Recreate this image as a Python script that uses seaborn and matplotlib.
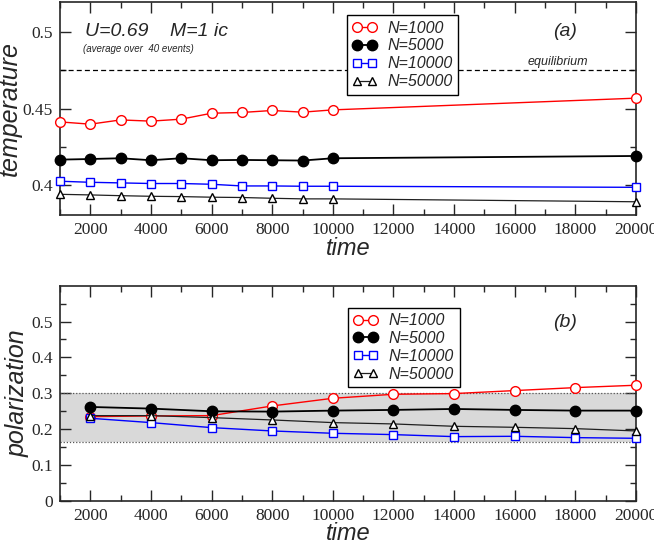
#!/usr/bin/env python3

import pandas as pd
import matplotlib
matplotlib.use("Agg")
import matplotlib.pyplot as plt
import seaborn as sns

# panel (a): temperature vs time
time_a = [1000, 2000, 3000, 4000, 5000, 6000, 7000, 8000, 9000, 10000, 20000]
temp_1000 = [0.4412, 0.4397, 0.4425, 0.4417, 0.4430, 0.4469, 0.4474, 0.4487, 0.4476, 0.4491, 0.4568]
temp_5000 = [0.4164, 0.4168, 0.4173, 0.4160, 0.4173, 0.4160, 0.4162, 0.4160, 0.4158, 0.4173, 0.4188]
temp_10000 = [0.4022, 0.4015, 0.4011, 0.4007, 0.4007, 0.4002, 0.3991, 0.3991, 0.3989, 0.3989, 0.3982]
temp_50000 = [0.3936, 0.3932, 0.3927, 0.3923, 0.3921, 0.3917, 0.3915, 0.3910, 0.3906, 0.3906, 0.3887]
equilibrium = 0.475

# panel (b): polarization vs time
time_b = [2000, 4000, 6000, 8000, 10000, 12000, 14000, 16000, 18000, 20000]
pol_1000 = [0.2346, 0.2365, 0.2374, 0.2644, 0.2858, 0.2970, 0.2989, 0.3073, 0.3156, 0.3222]
pol_5000 = [0.2616, 0.2570, 0.2495, 0.2486, 0.2514, 0.2533, 0.2560, 0.2533, 0.2514, 0.2514]
pol_10000 = [0.2300, 0.2179, 0.2039, 0.1946, 0.1881, 0.1844, 0.1788, 0.1797, 0.1760, 0.1741]
pol_50000 = [0.2374, 0.2374, 0.2318, 0.2253, 0.2179, 0.2142, 0.2076, 0.2048, 0.2011, 0.1946]
band = (0.165, 0.30)

labels = ["N=1000", "N=5000", "N=10000", "N=50000"]

styles = {
    "N=1000": dict(color="#ff0000", marker="o", mfc="white", mec="#ff0000", lw=1.0, ms=7),
    "N=5000": dict(color="black", marker="o", mfc="black", mec="black", lw=1.3, ms=7.5),
    "N=10000": dict(color="#0000ff", marker="s", mfc="white", mec="#0000ff", lw=1.0, ms=6),
    "N=50000": dict(color="#202020", marker="^", mfc="white", mec="black", lw=0.9, ms=6),
}

sns.set_style("ticks")
plt.rcParams["font.family"] = ["DejaVu Sans"]
plt.rcParams["xtick.direction"] = "in"
plt.rcParams["ytick.direction"] = "in"
plt.rcParams["xtick.top"] = True
plt.rcParams["ytick.right"] = True

SERIF = "Liberation Serif"
SANS = "Liberation Sans"

fig = plt.figure(figsize=(6.54, 5.45), dpi=100)
ax_a = fig.add_axes([0.0917, 0.6055, 0.8808, 0.3908])
ax_b = fig.add_axes([0.0917, 0.0813, 0.8808, 0.3945])


def draw(ax, x, series):
    for lab, y in zip(labels, series):
        st = styles[lab]
        df = pd.DataFrame({"time": x, "value": y})
        sns.lineplot(data=df, x="time", y="value", ax=ax, color=st["color"],
                     marker=st["marker"], markerfacecolor=st["mfc"],
                     markeredgecolor=st["mec"], markeredgewidth=1.0,
                     markersize=st["ms"], linewidth=st["lw"], label=lab,
                     clip_on=False, zorder=3)


def style_axes(ax, ylim, ymajor, yminor, ylabel):
    ax.set_xlim(1000, 20000)
    ax.set_ylim(*ylim)
    ax.set_xticks(range(2000, 20001, 2000))
    ax.set_xticks(range(1000, 20001, 1000), minor=True)
    ax.set_yticks(ymajor)
    ax.set_yticks(yminor, minor=True)
    ax.set_yticklabels([("%.2f" % v).rstrip("0").rstrip(".") for v in ymajor])
    ax.tick_params(which="major", length=8, width=1, labelsize=12.5, pad=5)
    ax.tick_params(which="minor", length=4, width=1)
    for lbl in ax.get_xticklabels() + ax.get_yticklabels():
        lbl.set_fontfamily(SERIF)
    for sp in ax.spines.values():
        sp.set_linewidth(1.2)
    ax.set_xlabel("time", fontsize=17, style="italic", family=SANS, labelpad=-1)
    ax.set_ylabel(ylabel, fontsize=18, style="italic", family=SANS, labelpad=1)


# panel (a)
draw(ax_a, time_a, [temp_1000, temp_5000, temp_10000, temp_50000])
ax_a.axhline(equilibrium, color="black", lw=0.9, ls=(0, (4, 2.5)), zorder=1)
style_axes(ax_a, (0.38, 0.52), [0.4, 0.45, 0.5], [0.425, 0.475], "temperature")
ax_a.text(0.043, 0.862, "U=0.69    M=1 ic", transform=ax_a.transAxes,
          fontsize=14, style="italic", family=SANS, va="center")
ax_a.text(0.04, 0.78, "(average over  40 events)", transform=ax_a.transAxes,
          fontsize=7, style="italic", family=SANS, va="center")
ax_a.text(0.864, 0.72, "equilibrium", transform=ax_a.transAxes,
          fontsize=9, style="italic", family=SANS, ha="center", va="center")
ax_a.text(0.877, 0.862, "(a)", transform=ax_a.transAxes,
          fontsize=14, style="italic", family=SANS, ha="center", va="center")

# panel (b)
ax_b.axhspan(band[0], band[1], color="#d9d9d9", zorder=0, lw=0)
for yb in band:
    ax_b.axhline(yb, color="#555555", lw=0.9, ls=(0, (1, 1.5)), zorder=1)
draw(ax_b, time_b, [pol_1000, pol_5000, pol_10000, pol_50000])
style_axes(ax_b, (0, 0.6), [0, 0.1, 0.2, 0.3, 0.4, 0.5],
           [0.05, 0.15, 0.25, 0.35, 0.45, 0.55], "polarization")
ax_b.text(0.877, 0.828, "(b)", transform=ax_b.transAxes,
          fontsize=14, style="italic", family=SANS, ha="center", va="center")

for ax, anchor in [(ax_a, (0.498, 0.939)), (ax_b, (0.5, 0.898))]:
    leg = ax.legend(loc="upper left", bbox_to_anchor=anchor, numpoints=2,
                    handlelength=1.5, handletextpad=0.7, labelspacing=0.18,
                    borderpad=0.35, borderaxespad=0, fancybox=False,
                    framealpha=1, edgecolor="black",
                    prop=dict(family=SANS, style="italic", size=11.5))
    leg.get_frame().set_linewidth(1.0)

fig.savefig("out.png", dpi=100)
